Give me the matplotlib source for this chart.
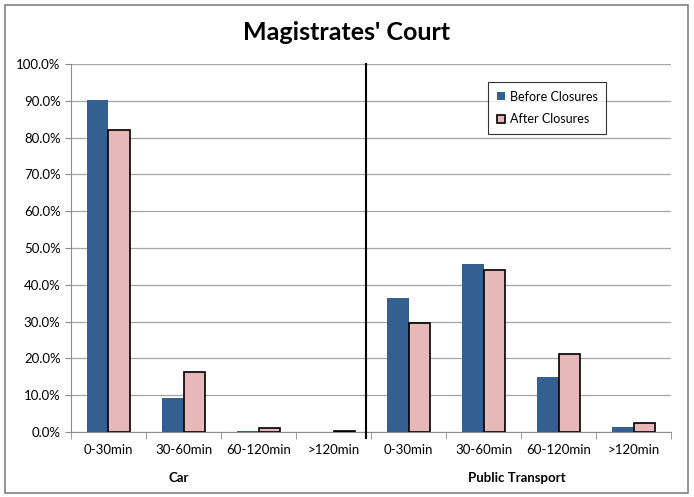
import matplotlib
matplotlib.use("Agg")
import matplotlib.pyplot as plt
import numpy as np
from matplotlib.patches import Rectangle
from matplotlib.ticker import PercentFormatter

categories = ["0-30min", "30-60min", "60-120min", ">120min",
              "0-30min", "30-60min", "60-120min", ">120min"]
before = [90.1, 9.2, 0.3, 0.0, 36.4, 45.6, 14.9, 1.4]
after = [82.1, 16.3, 1.0, 0.3, 29.6, 44.1, 21.3, 2.4]
groups = ["Car", "Public Transport"]

plt.rcParams["font.family"] = ["Lato", "DejaVu Sans"]

fig = plt.figure(figsize=(6.94, 4.97), dpi=100)
ax = fig.add_axes([0.1023, 0.1308, 0.8646, 0.7404])

x = np.arange(len(categories))
w = 0.29
ax.bar(x - w / 2, before, w, color="#335F91", label="Before Closures", zorder=3)
ax.bar(x + w / 2, after, w, color="#E6B8B7", edgecolor="black", linewidth=1.2,
       label="After Closures", zorder=3)

ax.set_xlim(-0.5, len(categories) - 0.5)
ax.set_ylim(0, 100)
ax.set_yticks(np.arange(0, 101, 10))
ax.yaxis.set_major_formatter(PercentFormatter(decimals=1))
ax.grid(axis="y", color="#A6A6A6", linewidth=0.9, zorder=0)
ax.set_xticks(x)
ax.set_xticklabels(categories, fontsize=9.5)
ax.set_xticks(np.arange(-0.5, len(categories)), minor=True)
ax.tick_params(axis="x", which="major", length=0, pad=9)
ax.tick_params(axis="x", which="minor", length=5, color="#8C8C8C")
ax.tick_params(axis="y", length=4, color="#8C8C8C", labelsize=9.5)
for s in ("top", "right"):
    ax.spines[s].set_visible(False)
for s in ("left", "bottom"):
    ax.spines[s].set_color("#8C8C8C")

# divider between the two groups
ax.plot([3.43, 3.43], [100, -1.5], color="black", linewidth=1.5,
        clip_on=False, zorder=4)

ax.text(0.93, -0.125, groups[0], transform=ax.get_xaxis_transform(),
        ha="center", va="center", fontsize=9.5, fontweight="bold")
ax.text(5.45, -0.125, groups[1], transform=ax.get_xaxis_transform(),
        ha="center", va="center", fontsize=9.5, fontweight="bold")

fig.text(0.5, 0.935, "Magistrates' Court", ha="center", va="center",
         fontsize=18, fontweight="bold")

leg = ax.legend(loc="upper left", bbox_to_anchor=(0.685, 0.968), fontsize=9,
                frameon=True, fancybox=False, edgecolor="black",
                handlelength=0.6, handleheight=0.6, handletextpad=0.4,
                labelspacing=0.85, borderpad=0.7)
leg.get_frame().set_linewidth(0.8)

fig.patches.append(Rectangle((0.007, 0.008), 0.985, 0.982, transform=fig.transFigure,
                             fill=False, edgecolor="#808080", linewidth=1.2))

fig.savefig("out.png", dpi=100)
